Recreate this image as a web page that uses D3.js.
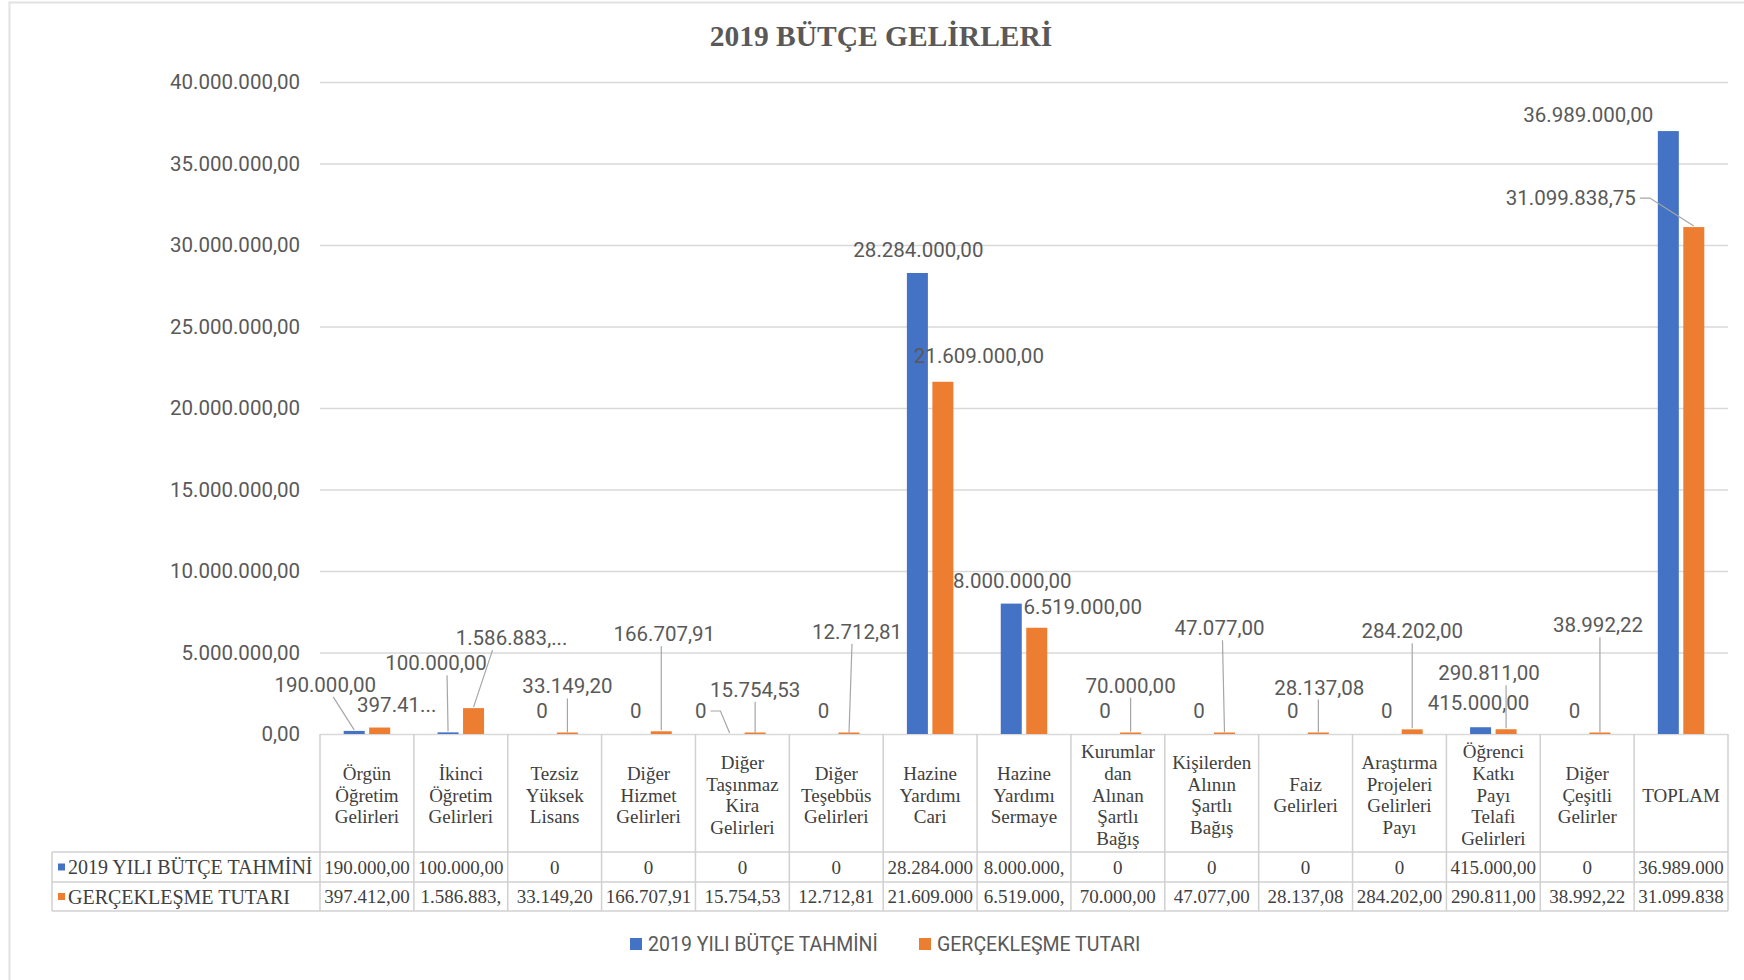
<!DOCTYPE html>
<html lang="tr">
<head>
<meta charset="UTF-8">
<title>2019 Bütçe Gelirleri</title>
<script src="https://d3js.org/d3.v7.min.js"></script>
<style>
  body { margin: 0; background: #fff; }
  svg { display: block; }
  .sans { font-family: Roboto, "Liberation Sans", sans-serif; fill: #595959; }
  .serif { font-family: "Liberation Serif", "Times New Roman", serif; fill: #404040; }
</style>
</head>
<body>
<div id="chart"></div>
<script>
// --- data ---
const title = "2019 BÜTÇE GELİRLERİ";
const seriesNames = ["2019 YILI BÜTÇE TAHMİNİ", "GERÇEKLEŞME TUTARI"];
const categories = [
  "Örgün\nÖğretim\nGelirleri",
  "İkinci\nÖğretim\nGelirleri",
  "Tezsiz\nYüksek\nLisans",
  "Diğer\nHizmet\nGelirleri",
  "Diğer\nTaşınmaz\nKira\nGelirleri",
  "Diğer\nTeşebbüs\nGelirleri",
  "Hazine\nYardımı\nCari",
  "Hazine\nYardımı\nSermaye",
  "Kurumlar\ndan\nAlınan\nŞartlı\nBağış",
  "Kişilerden\nAlının\nŞartlı\nBağış",
  "Faiz\nGelirleri",
  "Araştırma\nProjeleri\nGelirleri\nPayı",
  "Öğrenci\nKatkı\nPayı\nTelafi\nGelirleri",
  "Diğer\nÇeşitli\nGelirler",
  "TOPLAM"
];
const budget = [190000, 100000, 0, 0, 0, 0, 28284000, 8000000, 0, 0, 0, 0, 415000, 0, 36989000];
const actual = [397412, 1586883, 33149.20, 166707.91, 15754.53, 12712.81, 21609000, 6519000,
                70000, 47077, 28137.08, 284202, 290811, 38992.22, 31099838.75];
const yTicks = [0, 5000000, 10000000, 15000000, 20000000, 25000000, 30000000, 35000000, 40000000];

// manual data label placement (offset from bar top, leader type)
const labelLayout = [
  [{dx: -29, dy: -46, lead: "v", ldx: 8},  {dx: 17, dy: -23, trunc: 6}],
  [{dx: -12, dy: -69, lead: "v", ldx: 11}, {dx: 38, dy: -70, lead: "v", ldx: -19, trunc: 10}],
  [{dx: 0, dy: -23},  {dx: 0, dy: -47, lead: "v"}],
  [{dx: 0, dy: -23},  {dx: 3, dy: -97, lead: "v", ldx: -3}],
  [{dx: -29, dy: -23, lead: "h"}, {dx: 0, dy: -44, lead: "v"}],
  [{dx: 0, dy: -23},  {dx: 8, dy: -102, lead: "v", ldx: -5}],
  [{dx: 1, dy: -23},  {dx: 36, dy: -26}],
  [{dx: 1, dy: -23},  {dx: 46, dy: -21}],
  [{dx: 0, dy: -23},  {dx: 0, dy: -47, lead: "v"}],
  [{dx: 0, dy: -23},  {dx: -5, dy: -105, lead: "v", ldx: 3}],
  [{dx: 0, dy: -23},  {dx: 1, dy: -46, lead: "v", ldx: -1}],
  [{dx: 0, dy: -23},  {dx: 0, dy: -98, lead: "v"}],
  [{dx: -2, dy: -24}, {dx: -17, dy: -56, lead: "v", ldx: 17}],
  [{dx: 0, dy: -23},  {dx: -2, dy: -108, lead: "v", ldx: 2}],
  [{dx: -80, dy: -16}, {dx: -123, dy: -29, lead: "h"}]
];

// --- setup ---
const W = 1744, H = 980;
const colors = ["#4472C4", "#ED7D31"];
const gridColor = "#D9D9D9";
const tableColor = "#D0D0D0";

const locale = d3.formatLocale({decimal: ",", thousands: ".", grouping: [3], currency: ["", ""]});
const fmt2 = locale.format(",.2f");
const fmtVal = v => v === 0 ? "0" : fmt2(v);

const svg = d3.select("#chart").append("svg")
  .attr("width", W).attr("height", H);

svg.append("rect").attr("width", W).attr("height", H).attr("fill", "#fff");
svg.append("rect")
  .attr("x", 9.5).attr("y", 2.5).attr("width", W + 20).attr("height", H + 20)
  .attr("fill", "none").attr("stroke", "#E2E2E2").attr("stroke-width", 2);

const plotLeft = 320, plotRight = 1728;
const y = d3.scaleLinear().domain([0, 40000000]).range([734, 82]);
const x0 = d3.scaleBand().domain(d3.range(categories.length)).range([plotLeft, plotRight]);
const groupW = 46.5;
const x1 = d3.scaleBand().domain([0, 1]).range([0, groupW]).paddingInner(0.176);
const groupOff = (x0.bandwidth() - groupW) / 2;

// title
svg.append("text")
  .attr("x", 881).attr("y", 46)
  .attr("text-anchor", "middle")
  .attr("font-family", "'Liberation Serif', 'Times New Roman', serif")
  .attr("font-weight", "bold").attr("font-size", 29.5)
  .attr("fill", "#595959")
  .text(title);

// gridlines + y labels
const yAxis = d3.axisLeft(y).tickValues(yTicks).tickFormat(fmt2)
  .tickSize(-(plotRight - plotLeft)).tickPadding(20);
const ga = svg.append("g").attr("transform", `translate(${plotLeft},0)`).call(yAxis);
ga.select(".domain").remove();
ga.selectAll(".tick line").attr("stroke", gridColor).attr("stroke-width", 1.5);
ga.selectAll(".tick text")
  .attr("class", "sans").attr("font-size", 20.5).attr("fill", "#595959")
  .attr("font-family", "Roboto, 'Liberation Sans', sans-serif");

// bars
const seriesData = [budget, actual];
const bars = svg.append("g");
seriesData.forEach((vals, s) => {
  bars.selectAll(null)
    .data(vals.map((v, i) => ({v, i})).filter(d => d.v > 0))
    .enter().append("rect")
    .attr("x", d => x0(d.i) + groupOff + x1(s))
    .attr("width", x1.bandwidth())
    .attr("y", d => Math.min(y(d.v), y(0) - 1.5))
    .attr("height", d => Math.max(y(0) - y(d.v), 1.5))
    .attr("fill", colors[s]);
});

// data labels
const labels = svg.append("g");
seriesData.forEach((vals, s) => {
  vals.forEach((v, i) => {
    const L = labelLayout[i][s];
    const bx = x0(i) + groupOff + x1(s) + x1.bandwidth() / 2;
    const by = y(v);
    const lx = bx + L.dx, ly = by + L.dy;
    let txt = fmtVal(v);
    if (L.trunc) txt = txt.slice(0, L.trunc) + "...";
    const t = labels.append("text")
      .attr("class", "sans")
      .attr("x", lx).attr("y", ly)
      .attr("text-anchor", "middle").attr("dominant-baseline", "central")
      .attr("font-size", 20.5)
      .attr("fill", "#404040")
      .text(txt);
    if (L.lead === "v") {
      labels.append("line")
        .attr("x1", lx + (L.ldx || 0)).attr("y1", ly + 12)
        .attr("x2", bx).attr("y2", by - 1)
        .attr("stroke", "#A6A6A6").attr("stroke-width", 1.2);
    } else if (L.lead === "h") {
      const w = t.node().getComputedTextLength();
      const sx = lx + w / 2 + 4;
      labels.append("polyline")
        .attr("points", [[sx, ly], [sx + 10, ly], [bx, by - 1]].map(p => p.join(",")).join(" "))
        .attr("fill", "none").attr("stroke", "#A6A6A6").attr("stroke-width", 1.2);
    }
  });
});

// data table
const tableTop = 734, headBottom = 852, row1Bottom = 882, row2Bottom = 911;
const tableLeft = 52;
const tbl = svg.append("g");
const hl = (x1_, x2_, yy) => tbl.append("line").attr("x1", x1_).attr("x2", x2_)
  .attr("y1", yy).attr("y2", yy).attr("stroke", tableColor).attr("stroke-width", 1.5);
const vl = (xx, y1_, y2_) => tbl.append("line").attr("x1", xx).attr("x2", xx)
  .attr("y1", y1_).attr("y2", y2_).attr("stroke", tableColor).attr("stroke-width", 1.5);

hl(tableLeft, plotRight, headBottom);
hl(tableLeft, plotRight, row1Bottom);
hl(tableLeft, plotRight, row2Bottom);
vl(tableLeft, headBottom, row2Bottom);
d3.range(categories.length + 1).forEach(i => {
  const xx = i < categories.length ? x0(i) : plotRight;
  vl(xx, tableTop, row2Bottom);
});

// header cells
categories.forEach((c, i) => {
  const lines = c.split("\n");
  const lh = 21.7;
  const cy = (tableTop + headBottom) / 2 + 2;
  const t = tbl.append("text").attr("class", "serif")
    .attr("x", x0(i) + x0.bandwidth() / 2)
    .attr("text-anchor", "middle").attr("font-size", 19);
  lines.forEach((ln, k) => {
    t.append("tspan")
      .attr("x", x0(i) + x0.bandwidth() / 2)
      .attr("y", cy + (k - (lines.length - 1) / 2) * lh)
      .attr("dominant-baseline", "central")
      .text(ln);
  });
});

// value rows
const rowCenters = [(headBottom + row1Bottom) / 2, (row1Bottom + row2Bottom) / 2];
seriesData.forEach((vals, s) => {
  const cy = rowCenters[s];
  tbl.append("rect").attr("x", 58).attr("y", cy - 3.5).attr("width", 7).attr("height", 7)
    .attr("fill", colors[s]);
  tbl.append("text").attr("class", "serif")
    .attr("x", 68).attr("y", cy).attr("dominant-baseline", "central")
    .attr("font-size", 20).text(seriesNames[s]);
  vals.forEach((v, i) => {
    tbl.append("text").attr("class", "serif")
      .attr("x", x0(i) + x0.bandwidth() / 2).attr("y", cy)
      .attr("text-anchor", "middle").attr("dominant-baseline", "central")
      .attr("font-size", 19)
      .text(fmtVal(v).slice(0, 10));
  });
});

// bottom legend
const legendItems = [{x: 630}, {x: 919}];
legendItems.forEach((d, s) => {
  svg.append("rect").attr("x", d.x).attr("y", 938).attr("width", 12).attr("height", 12)
    .attr("fill", colors[s]);
  svg.append("text").attr("class", "sans")
    .attr("x", d.x + 18).attr("y", 944).attr("dominant-baseline", "central")
    .attr("font-size", 19.5).attr("fill", "#595959")
    .text(seriesNames[s]);
});
</script>
</body>
</html>
